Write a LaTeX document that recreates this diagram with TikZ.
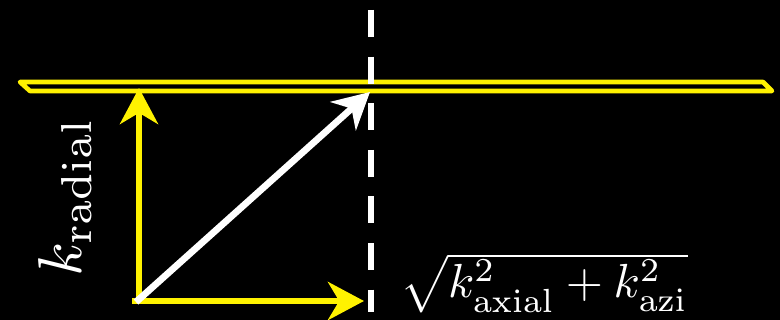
\documentclass[tikz,border=0pt]{standalone}
\usepackage{amsmath}
\usepackage{graphicx}
\usetikzlibrary{arrows.meta, positioning, calc}

\begin{document}
\begin{tikzpicture}[x=0.025cm, y=-0.025cm,
                vec/.style={line width=4.8pt, -{Stealth[length=0.9cm, width=0.95cm, inset=0.28cm]}},
                yvec/.style={vec, yellow},
                wvec/.style={vec, white},
                plane/.style={draw=yellow, line width=3.3pt, line join=round},
                cutline/.style={white, line width=4.5pt, dash pattern=on 0.675cm off 0.49cm},
                varlabel/.style={text=white, inner sep=0pt}
            ]

            % Hintergrund
            \fill[black] (0,0) rectangle (780,320);
            \useasboundingbox (0,0) rectangle (780,320);

            % Punkte
            \coordinate (O) at (136,302);
            \coordinate (Ok) at (139,302);
            \coordinate (Oh) at (132,301);
            \coordinate (Top) at (139,88);
            \coordinate (Right) at (364,301);
            \coordinate (Hit) at (370,92);
            \coordinate (D1) at (371,10);
            \coordinate (D2) at (371,312);

            % Ebene
            \draw[plane] (20,82) -- (763,82) -- (772,91) -- (30,91) -- cycle;

            % Gestrichelte Linie
            \draw[cutline] (D1) -- (D2);

            % Vektoren
            \draw[yvec] (Ok) -- (Top);
            \draw[yvec] (Oh) -- (Right);
            \draw[wvec] (O) -- (Hit);

            % Beschriftungen
            \node[varlabel, rotate=90] (krad) at (65,197) {\scalebox{4.4}{$k_{\mathrm{radial}}$}};
            \node[varlabel] (kperp) at (544,283) {\scalebox{3.4}{$\sqrt{k_{\mathrm{axial}}^2+k_{\mathrm{azi}}^2}$}};

        \end{tikzpicture}
\end{document}
